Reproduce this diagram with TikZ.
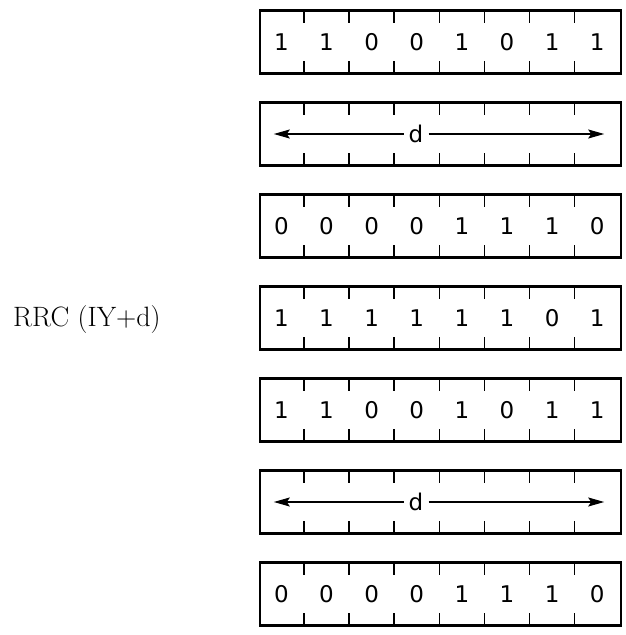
\documentclass[tikz,border=0pt]{standalone}
\usepackage{fontspec}
\usetikzlibrary{arrows.meta}
\newfontfamily\bitfont{DejaVu Sans}
\begin{document}
\begin{tikzpicture}[x=1pt,y=-1pt,
		register/.style={draw, line width=2.4pt, minimum width=361pt, minimum height=63pt, inner sep=0pt},
		tick/.style={line width=1.4pt},
		bit/.style={font=\bitfont\fontsize{23}{27}\selectfont, inner sep=0pt},
		span/.style={line width=1.6pt, -{Stealth[length=16pt,width=9pt,inset=3pt]}}]
		\useasboundingbox (0,0) rectangle (626,635);
		% registers with cell ticks
		\foreach \r in {1,...,7} {
			\node[register] (reg\r) at (440.5,{42+92*(\r-1)}) {};
			\foreach \k in {1,...,7} {
				\draw[tick] ([xshift={\k*45.125pt}]reg\r.north west) -- ++(0,14);
				\draw[tick] ([xshift={\k*45.125pt}]reg\r.south west) -- ++(0,-14);
			}
		}
		% bit values
		\foreach \r/\bits in {1/{1,1,0,0,1,0,1,1}, 3/{0,0,0,0,1,1,1,0}, 4/{1,1,1,1,1,1,0,1}, 5/{1,1,0,0,1,0,1,1}, 7/{0,0,0,0,1,1,1,0}} {
			\foreach \b [count=\k] in \bits
				\node[bit] (b\r\k) at ([xshift={(\k-0.5)*45.125pt}]reg\r.west) {\b};
		}
		% displacement bytes
		\foreach \r in {2,6} {
			\node[bit, inner sep=5pt] (d\r) at ([xshift=-24.5pt]reg\r.center) {d};
			\coordinate (l\r) at ([xshift=15pt]reg\r.west);
			\coordinate (r\r) at ([xshift=-18pt]reg\r.east);
			\draw[span] (d\r) -- (l\r);
			\draw[span] (d\r) -- (r\r);
		}
		\node[font=\fontsize{28}{32}\selectfont, anchor=west, inner sep=0pt] (op) at (13,320) {RRC (IY+d)};
	\end{tikzpicture}
\end{document}
